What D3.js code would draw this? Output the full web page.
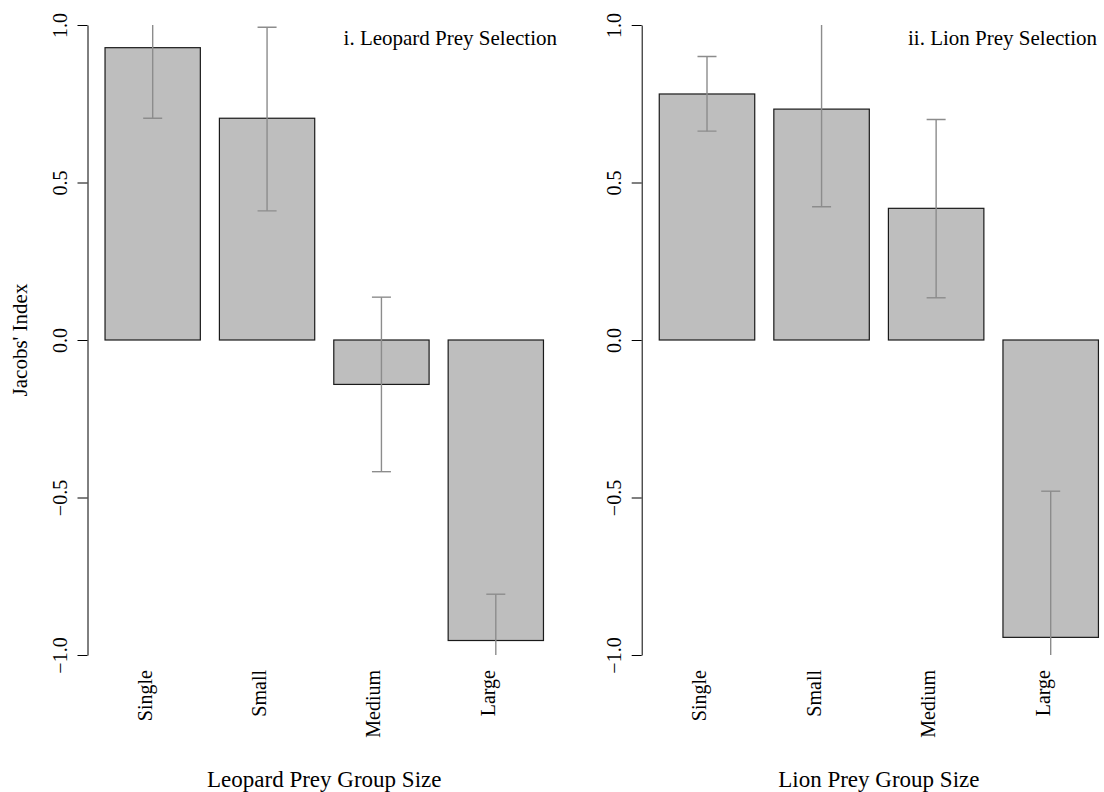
<!DOCTYPE html>
<html>
<head>
<meta charset="utf-8">
<script src="https://cdn.jsdelivr.net/npm/d3@7"></script>
<style>
  body { margin: 0; background: #fff; }
  svg text { font-family: "Liberation Serif", "Times New Roman", serif; fill: #000; }
</style>
</head>
<body>
<svg id="chart" width="1104" height="792"></svg>
<script>
// Data
const groups = ["Single", "Small", "Medium", "Large"];
const yTicks = [-1, -0.5, 0, 0.5, 1];

const leopardMean = [0.928, 0.704, -0.141, -0.954];
const leopardLow = [0.704, 0.41, -0.418, -1.1];
const leopardHigh = [1.15, 0.993, 0.136, -0.807];

const lionMean = [0.781, 0.733, 0.418, -0.944];
const lionLow = [0.663, 0.423, 0.134, -1.4];
const lionHigh = [0.9, 1.05, 0.70, -0.48];

const svg = d3.select("#chart");

const panels = [
  { id: "leopard", left: 87.5, right: 561, titleX: 557, title: "i. Leopard Prey Selection",
    xlab: "Leopard Prey Group Size", mean: leopardMean, lo: leopardLow, hi: leopardHigh },
  { id: "lion", left: 641.7, right: 1116, titleX: 1097, title: "ii. Lion Prey Selection",
    xlab: "Lion Prey Group Size", mean: lionMean, lo: lionLow, hi: lionHigh }
];

const plotTop = 25, plotBottom = 655;
const y = d3.scaleLinear().domain([-1, 1]).range([plotBottom, plotTop]);

panels.forEach(function(p) {
  const x = d3.scaleBand()
    .domain(groups)
    .range([p.left, p.right])
    .paddingInner(1 / 6)
    .paddingOuter(0.1533);

  const rows = groups.map((g, i) => ({ g: g, m: p.mean[i], lo: p.lo[i], hi: p.hi[i] }));

  svg.append("clipPath")
    .attr("id", "clip-" + p.id)
    .append("rect")
    .attr("x", p.left)
    .attr("y", plotTop)
    .attr("width", p.right - p.left)
    .attr("height", plotBottom - plotTop);

  const g = svg.append("g");
  const plot = g.append("g").attr("clip-path", "url(#clip-" + p.id + ")");

  // bars
  plot.selectAll("rect.bar")
    .data(rows)
    .enter()
    .append("rect")
    .attr("class", "bar")
    .attr("x", d => x(d.g))
    .attr("width", x.bandwidth())
    .attr("y", d => y(Math.max(0, d.m)))
    .attr("height", d => Math.abs(y(d.m) - y(0)))
    .style("fill", "#bebebe")
    .style("stroke", "#1a1a1a")
    .style("stroke-width", 1.2);

  // error bars
  const cap = 9.5;
  const eb = plot.selectAll("g.err")
    .data(rows)
    .enter()
    .append("g")
    .attr("class", "err")
    .style("stroke", "#8c8c8c")
    .style("stroke-width", 1.4);

  eb.append("line")
    .attr("x1", d => x(d.g) + x.bandwidth() / 2)
    .attr("x2", d => x(d.g) + x.bandwidth() / 2)
    .attr("y1", d => y(d.lo))
    .attr("y2", d => y(d.hi));

  eb.append("line")
    .attr("x1", d => x(d.g) + x.bandwidth() / 2 - cap)
    .attr("x2", d => x(d.g) + x.bandwidth() / 2 + cap)
    .attr("y1", d => y(d.lo))
    .attr("y2", d => y(d.lo));

  eb.append("line")
    .attr("x1", d => x(d.g) + x.bandwidth() / 2 - cap)
    .attr("x2", d => x(d.g) + x.bandwidth() / 2 + cap)
    .attr("y1", d => y(d.hi))
    .attr("y2", d => y(d.hi));

  // y axis
  const axis = d3.axisLeft(y)
    .tickValues(yTicks)
    .tickSize(10)
    .tickSizeOuter(0)
    .tickFormat(d3.format(".1f"));

  const ag = g.append("g")
    .attr("transform", "translate(" + p.left + ",0)")
    .call(axis);

  ag.select(".domain").style("stroke", "#000").style("stroke-width", 1);
  ag.selectAll(".tick line").style("stroke", "#000").style("stroke-width", 1);
  ag.selectAll(".tick text")
    .attr("x", null)
    .attr("dy", null)
    .attr("transform", "translate(-21,0) rotate(-90)")
    .attr("text-anchor", "middle")
    .style("font-family", "Liberation Serif")
    .style("font-size", "20px")
    .text(d => d3.format(".1f")(d).replace("-", "\u2212"));

  // category labels
  g.selectAll("text.cat")
    .data(groups)
    .enter()
    .append("text")
    .attr("class", "cat")
    .attr("transform", d => "translate(" + (x(d) + x.bandwidth() / 2 - 1) + "," + 670 + ") rotate(-90)")
    .attr("text-anchor", "end")
    .style("font-size", "20px")
    .text(d => d);

  // panel title
  g.append("text")
    .attr("x", p.titleX)
    .attr("y", 45)
    .attr("text-anchor", "end")
    .style("font-size", "21px")
    .text(p.title);

  // x label
  g.append("text")
    .attr("x", (p.left + p.right) / 2)
    .attr("y", 787)
    .attr("text-anchor", "middle")
    .style("font-size", "23px")
    .text(p.xlab);
});

svg.append("text")
  .attr("transform", "translate(27,340) rotate(-90)")
  .attr("text-anchor", "middle")
  .style("font-size", "21px")
  .text("Jacobs' Index");
</script>
</body>
</html>
